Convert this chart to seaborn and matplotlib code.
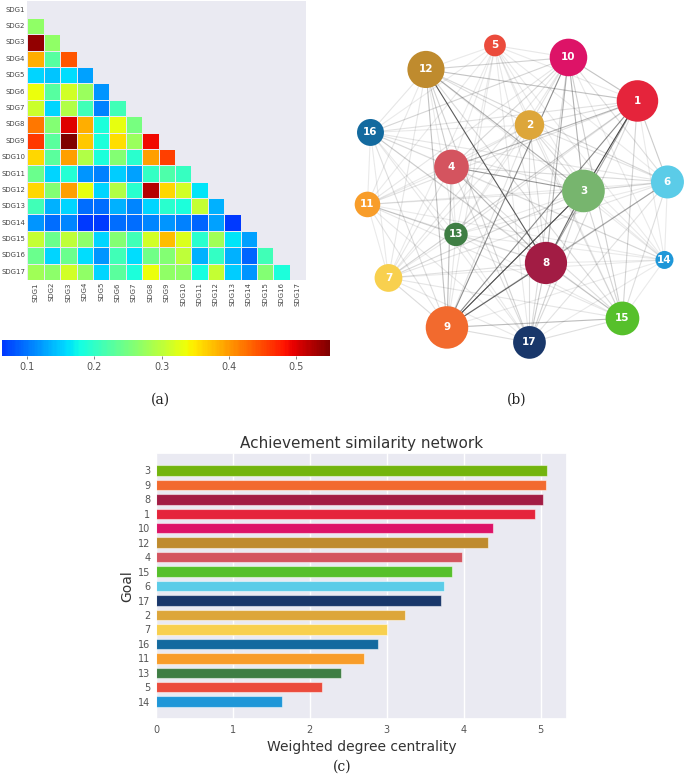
import numpy as np
import pandas as pd
import seaborn as sns
import matplotlib.pyplot as plt
from matplotlib.colors import ListedColormap
from matplotlib.collections import LineCollection

# ---- data -------------------------------------------------------------
goals = [str(i) for i in range(1, 18)]
sdg_labels = ["SDG%d" % i for i in range(1, 18)]

# achievement similarity, lower triangle (row SDGi vs SDG1..SDG(i-1))
sim_rows = [
    [],
    [0.27],
    [0.54, 0.27],
    [0.385, 0.225, 0.44],
    [0.155, 0.145, 0.16, 0.125],
    [0.335, 0.225, 0.315, 0.275, 0.12],
    [0.31, 0.155, 0.29, 0.21, 0.105, 0.21],
    [0.42, 0.26, 0.50, 0.385, 0.185, 0.33, 0.25],
    [0.46, 0.23, 0.55, 0.37, 0.185, 0.355, 0.275, 0.49],
    [0.36, 0.23, 0.395, 0.29, 0.185, 0.26, 0.195, 0.395, 0.455],
    [0.24, 0.155, 0.19, 0.12, 0.105, 0.15, 0.125, 0.20, 0.22, 0.205],
    [0.36, 0.26, 0.395, 0.33, 0.155, 0.29, 0.195, 0.52, 0.36, 0.315, 0.165],
    [0.21, 0.135, 0.155, 0.095, 0.095, 0.135, 0.11, 0.155, 0.195, 0.185, 0.305, 0.135],
    [0.12, 0.095, 0.11, 0.065, 0.055, 0.095, 0.095, 0.11, 0.12, 0.105, 0.09, 0.125, 0.065],
    [0.305, 0.24, 0.30, 0.265, 0.155, 0.26, 0.21, 0.315, 0.375, 0.32, 0.195, 0.28, 0.165, 0.125],
    [0.24, 0.155, 0.24, 0.16, 0.12, 0.21, 0.16, 0.245, 0.26, 0.30, 0.135, 0.20, 0.135, 0.09, 0.21],
    [0.28, 0.265, 0.315, 0.27, 0.155, 0.23, 0.185, 0.335, 0.27, 0.27, 0.18, 0.305, 0.15, 0.12, 0.26, 0.185],
]

# weighted degree centrality (panel c), sorted as in the chart
bar_goals = ["3", "9", "8", "1", "10", "12", "4", "15", "6", "17", "2", "7", "16", "11", "13", "5", "14"]
bar_vals = [5.09, 5.07, 5.03, 4.93, 4.38, 4.32, 3.975, 3.845, 3.74, 3.70, 3.24, 3.01, 2.89, 2.70, 2.40, 2.165, 1.64]

# network layout positions for goals 1..17
node_x = [0.80, 0.08, 0.44, -0.44, -0.15, 1.00, -0.86, 0.19, -0.47, 0.34, -1.00, -0.61, -0.41, 0.98, 0.70, -0.98, 0.08]
node_y = [0.62, 0.46, 0.02, 0.18, 0.99, 0.08, -0.56, -0.46, -0.89, 0.91, -0.07, 0.83, -0.27, -0.44, -0.83, 0.41, -0.99]

goal_colors = {
    "1": "#E5243B", "2": "#DDA63A", "3": "#73B40E", "4": "#D4545F", "5": "#EB4B3C",
    "6": "#5BCCE8", "7": "#F8D04E", "8": "#A21C44", "9": "#F26A2E", "10": "#DD1367",
    "11": "#F89D2A", "12": "#BF8B2E", "13": "#3F7E44", "14": "#1F97D8", "15": "#56C02B",
    "16": "#136A9F", "17": "#19376A",
}
node_colors = dict(goal_colors)
node_colors["3"] = "#77B56E"

# ---- figure -----------------------------------------------------------
sns.set_theme(style="darkgrid")
plt.rcParams['font.family'] = ['DejaVu Sans']
fig = plt.figure(figsize=(6.85, 7.77), dpi=100)

# (a) heatmap
n = len(goals)
sim = np.full((n, n), np.nan)
for i, row in enumerate(sim_rows):
    for j, v in enumerate(row):
        sim[i, j] = v
sim_df = pd.DataFrame(sim, index=sdg_labels, columns=sdg_labels)
mask = np.triu(np.ones((n, n), dtype=bool))

jet_cut = ListedColormap(plt.cm.jet(np.linspace(0.18, 1.0, 256)))

ax_a = fig.add_axes([0.04, 0.6396, 0.407, 0.3585])
cax = fig.add_axes([0.003, 0.5418, 0.479, 0.0206])
sns.heatmap(sim_df, mask=mask, cmap=jet_cut, vmin=0.063, vmax=0.55,
            ax=ax_a, cbar_ax=cax, cbar_kws={"orientation": "horizontal"},
            linewidths=0.4, linecolor="#EAEAF2", square=False)
ax_a.set_facecolor("#EAEAF2")
ax_a.set_xticks(np.arange(n) + 0.5)
ax_a.set_xticklabels(sdg_labels, rotation=90, fontsize=5, color="#444444")
ax_a.set_yticks(np.arange(n) + 0.5)
ax_a.set_yticklabels(sdg_labels, rotation=0, fontsize=5, color="#444444")
ax_a.tick_params(length=0, pad=1.5)
ax_a.set_xticks(np.arange(n + 1), minor=True)
ax_a.set_yticks(np.arange(n + 1), minor=True)
ax_a.tick_params(which="minor", length=0)
ax_a.grid(False, which="major")
ax_a.grid(True, which="minor", color="white", linewidth=0.6)
ax_a.set_axisbelow(True)
ax_a.set_xlabel("")
ax_a.set_ylabel("")

cax.set_xticks([0.1, 0.2, 0.3, 0.4, 0.5])
cax.tick_params(labelsize=7, colors="#555555", length=2, width=0.5, pad=2)
cax.xaxis.set_ticks_position("bottom")

# (b) network
ax_b = fig.add_axes([0.4964, 0.5367, 0.5036, 0.4376])
ax_b.set_xlim(-1.183, 1.117)
ax_b.set_ylim(-1.107, 1.16)
ax_b.axis("off")

segs, seg_w = [], []
for i in range(n):
    for j in range(i):
        segs.append([(node_x[i], node_y[i]), (node_x[j], node_y[j])])
        seg_w.append(sim[i, j])
order = np.argsort(seg_w)
segs = [segs[k] for k in order]
seg_cols = []
for k in order:
    t = np.clip((seg_w[k] - 0.06) / 0.49, 0, 1)
    seg_cols.append((0.2, 0.2, 0.2, 0.1 + 0.85 * t ** 3))
ax_b.add_collection(LineCollection(segs, colors=seg_cols, linewidths=0.8, zorder=1))

cent = dict(zip(bar_goals, bar_vals))
radius_px = np.array([3.15 + 3.57 * cent[g] for g in goals])
sizes = (2 * radius_px * 0.72) ** 2
ax_b.scatter(node_x, node_y, s=sizes, c=[node_colors[g] for g in goals],
             edgecolors="none", zorder=2)
for g, x, y in zip(goals, node_x, node_y):
    ax_b.text(x, y, g, ha="center", va="center", color="white",
              fontsize=7.5, fontweight="bold", zorder=3)

# (c) bar chart
ax_c = fig.add_axes([0.2277, 0.0746, 0.5996, 0.3423])
bar_df = pd.DataFrame({"Goal": bar_goals, "Centrality": bar_vals})
sns.barplot(data=bar_df, x="Centrality", y="Goal", hue="Goal",
            palette=[goal_colors[g] for g in bar_goals], legend=False, saturation=1,
            orient="h", width=0.72, edgecolor="#ffffff80", linewidth=0.8, ax=ax_c)
ax_c.set_xlim(0, 5.34)
ax_c.set_ylim(17.2, -1.2)
ax_c.set_xticks([0, 1, 2, 3, 4, 5])
ax_c.tick_params(labelsize=7, colors="#555555", length=0, pad=4)
ax_c.set_title("Achievement similarity network", fontsize=11, color="#333333", pad=4)
ax_c.set_xlabel("Weighted degree centrality", fontsize=10, color="#333333", labelpad=4)
ax_c.set_ylabel("Goal", fontsize=10, color="#333333", labelpad=3)

# panel captions
for label, x, y in [("(a)", 0.2336, 0.4852), ("(b)", 0.755, 0.4852), ("(c)", 0.499, 0.0129)]:
    fig.text(x, y, label, ha="center", va="center", fontsize=10,
             family="DejaVu Serif", color="#222222")

fig.savefig("out.png", dpi=100)
